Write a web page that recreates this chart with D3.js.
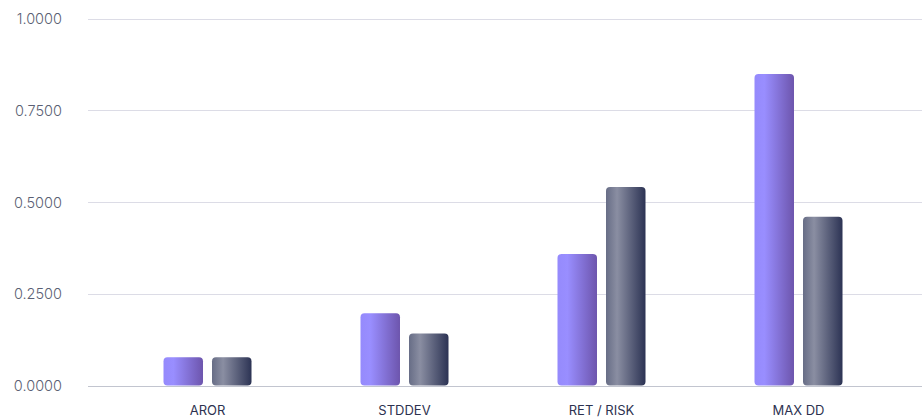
<!DOCTYPE html>
<html>
<head>
<meta charset="utf-8">
<script src="https://cdn.jsdelivr.net/npm/d3@7"></script>
<style>
  html, body { margin: 0; padding: 0; background: #ffffff; }
  svg { display: block; font-family: Inter, "Open Sans", sans-serif; }
</style>
</head>
<body>
<svg id="chart" width="922" height="418"></svg>
<script>
const categories = ["AROR", "STDDEV", "RET / RISK", "MAX DD"];
const seriesNames = ["Strategy", "Benchmark"];
const seriesA = [0.077, 0.197, 0.358, 0.849];
const seriesB = [0.077, 0.142, 0.541, 0.460];
const yTicks = [0, 0.25, 0.5, 0.75, 1.0];

const svg = d3.select("#chart");
const W = 922, H = 418;
const margin = { left: 88, right: 0, top: 18.5, bottom: 32.5 };

const y = d3.scaleLinear().domain([0, 1]).range([H - margin.bottom, margin.top]);
const x = d3.scaleBand().domain(categories).range([109, 897]).paddingInner(0).paddingOuter(0);
const xs = d3.scaleBand().domain(seriesNames).range([-44, 44]).paddingInner(0.1856).paddingOuter(0);

const defs = svg.append("defs");
const gA = defs.append("linearGradient").attr("id", "gA").attr("x1", "0").attr("x2", "1").attr("y1", "0").attr("y2", "0");
gA.append("stop").attr("offset", "0").attr("stop-color", "#958afc");
gA.append("stop").attr("offset", "0.25").attr("stop-color", "#998eff");
gA.append("stop").attr("offset", "1").attr("stop-color", "#6d55ad");
const gB = defs.append("linearGradient").attr("id", "gB").attr("x1", "0").attr("x2", "1").attr("y1", "0").attr("y2", "0");
gB.append("stop").attr("offset", "0").attr("stop-color", "#676d86");
gB.append("stop").attr("offset", "0.28").attr("stop-color", "#8a8ea2");
gB.append("stop").attr("offset", "1").attr("stop-color", "#2c3354");

// grid
const grid = svg.append("g");
grid.selectAll("line").data(yTicks).join("line")
  .attr("x1", margin.left).attr("x2", W)
  .attr("y1", d => Math.round(y(d)) + 0.5).attr("y2", d => Math.round(y(d)) + 0.5)
  .attr("stroke", d => d === 0 ? "#c2c5cf" : "#dcdce6").attr("stroke-width", 1.2);

// y labels
const yAxis = d3.axisLeft(y).tickValues(yTicks).tickFormat(d3.format(".4f")).tickSize(0).tickPadding(0);
const ya = svg.append("g").attr("transform", "translate(62,0)").call(yAxis);
ya.select(".domain").remove();
ya.selectAll("text").attr("fill", "#5b5f74").style("font-size", "14.5px").style("font-family", "Inter, sans-serif").style("font-weight", "300").attr("dy", "0.35em");

// bars
const groups = svg.append("g").selectAll("g").data(categories).join("g")
  .attr("transform", c => `translate(${x(c) + x.bandwidth() / 2},0)`);
groups.each(function (c, i) {
  const vals = [seriesA[i], seriesB[i]];
  d3.select(this).selectAll("rect").data(seriesNames).join("rect")
    .attr("x", s => xs(s))
    .attr("width", xs.bandwidth())
    .attr("y", (s, j) => y(vals[j]))
    .attr("height", (s, j) => y(0) - y(vals[j]))
    .attr("rx", 4).attr("ry", 4)
    .attr("fill", (s, j) => j === 0 ? "url(#gA)" : "url(#gB)");
});

// x labels
const xAxis = d3.axisBottom(x).tickSize(0).tickPadding(0);
const xa = svg.append("g").attr("transform", `translate(0,${H - 3})`).call(xAxis);
xa.select(".domain").remove();
xa.selectAll("text").attr("fill", "#2d3250").style("font-size", "13px").style("font-family", "Inter, sans-serif").style("font-weight", "400").attr("dy", "0");
</script>
</body>
</html>
